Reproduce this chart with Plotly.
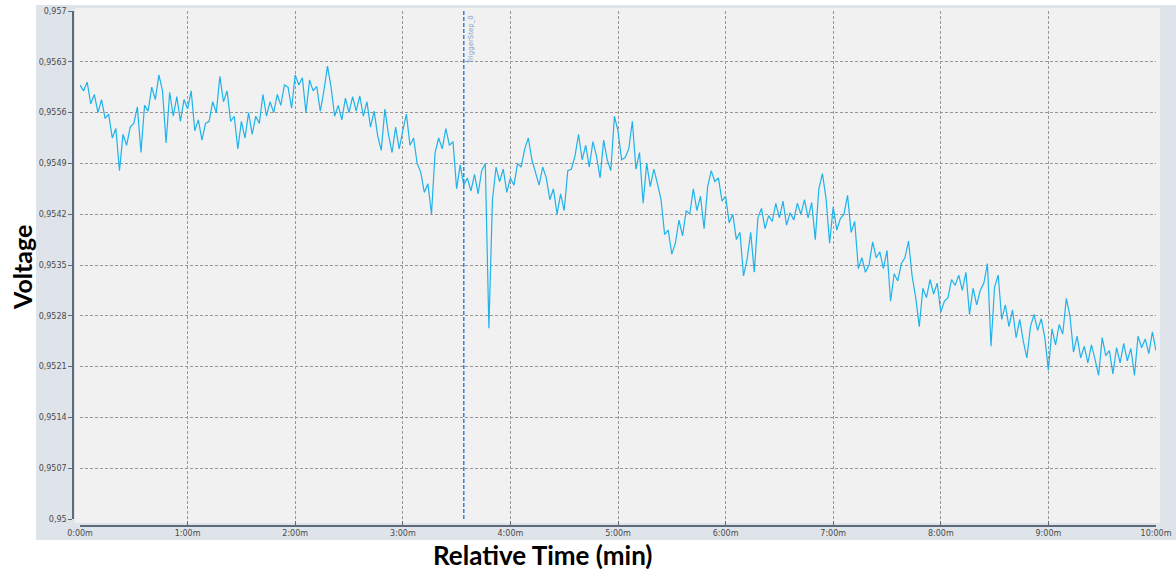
import plotly.graph_objects as go

# ---- data ----
sample_step_s = 2
voltage = [
    0.95598, 0.95590, 0.95602, 0.95572, 0.95585, 0.95560, 0.95578, 0.95552, 0.95558, 0.95525,
    0.95538, 0.95480, 0.95530, 0.95515, 0.95540, 0.95545, 0.95568, 0.95505, 0.95570, 0.95562,
    0.95595, 0.95578, 0.95612, 0.95590, 0.95518, 0.95588, 0.95555, 0.95582, 0.95548, 0.95578,
    0.95565, 0.95590, 0.95535, 0.95550, 0.95522, 0.95545, 0.95548, 0.95575, 0.95560, 0.95610,
    0.95575, 0.95590, 0.95548, 0.95555, 0.95510, 0.95548, 0.95525, 0.95560, 0.95530, 0.95555,
    0.95545, 0.95585, 0.95555, 0.95575, 0.95560, 0.95585, 0.95570, 0.95598, 0.95595, 0.95566,
    0.95612, 0.95598, 0.95608, 0.95560, 0.95605, 0.95590, 0.95596, 0.95562, 0.95590, 0.95624,
    0.95595, 0.95555, 0.95570, 0.95550, 0.95580, 0.95560, 0.95582, 0.95562, 0.95583, 0.95555,
    0.95575, 0.95540, 0.95562, 0.95528, 0.95508, 0.95565, 0.95530, 0.95505, 0.95540, 0.95510,
    0.95535, 0.95558, 0.95515, 0.95525, 0.95490, 0.95478, 0.95450, 0.95462, 0.95420, 0.95505,
    0.95525, 0.95510, 0.95538, 0.95515, 0.95520, 0.95455, 0.95488, 0.95460, 0.95470, 0.95452,
    0.95475, 0.95448, 0.95480, 0.95490, 0.95263, 0.95440, 0.95485, 0.95465, 0.95482, 0.95450,
    0.95470, 0.95460, 0.95490, 0.95485, 0.95510, 0.95525, 0.95495, 0.95478, 0.95460, 0.95485,
    0.95470, 0.95440, 0.95455, 0.95420, 0.95448, 0.95425, 0.95480, 0.95482, 0.95500, 0.95530,
    0.95495, 0.95515, 0.95485, 0.95520, 0.95500, 0.95470, 0.95522, 0.95495, 0.95480, 0.95555,
    0.95535, 0.95495, 0.95498, 0.95510, 0.95548, 0.95482, 0.95505, 0.95435, 0.95490, 0.95458,
    0.95482, 0.95462, 0.95440, 0.95392, 0.95398, 0.95365, 0.95380, 0.95412, 0.95390, 0.95425,
    0.95420, 0.95455, 0.95425, 0.95445, 0.95400, 0.95458, 0.95480, 0.95465, 0.95470, 0.95438,
    0.95445, 0.95408, 0.95420, 0.95385, 0.95395, 0.95335, 0.95358, 0.95395, 0.95340, 0.95415,
    0.95428, 0.95400, 0.95418, 0.95410, 0.95435, 0.95415, 0.95438, 0.95405, 0.95422, 0.95412,
    0.95435, 0.95420, 0.95440, 0.95415, 0.95436, 0.95385, 0.95455, 0.95476, 0.95442, 0.95380,
    0.95430, 0.95398, 0.95414, 0.95420, 0.95446, 0.95395, 0.95410, 0.95345, 0.95360, 0.95340,
    0.95350, 0.95382, 0.95360, 0.95368, 0.95345, 0.95370, 0.95300, 0.95338, 0.95328, 0.95352,
    0.95360, 0.95383, 0.95335, 0.95305, 0.95265, 0.95318, 0.95305, 0.95330, 0.95310, 0.95325,
    0.95285, 0.95300, 0.95305, 0.95330, 0.95322, 0.95336, 0.95315, 0.95340, 0.95282, 0.95318,
    0.95295, 0.95315, 0.95325, 0.95352, 0.95238, 0.95320, 0.95336, 0.95275, 0.95295, 0.95265,
    0.95288, 0.95250, 0.95275, 0.95245, 0.95222, 0.95265, 0.95282, 0.95260, 0.95276, 0.95250,
    0.95205, 0.95262, 0.95240, 0.95268, 0.95255, 0.95304, 0.95280, 0.95230, 0.95252, 0.95222,
    0.95238, 0.95215, 0.95240, 0.95220, 0.95198, 0.95250, 0.95225, 0.95232, 0.95200, 0.95236,
    0.95215, 0.95242, 0.95218, 0.95235, 0.95198, 0.95252, 0.95236, 0.95248, 0.95228, 0.95258,
    0.95232,
]
time_s = [i * sample_step_s for i in range(len(voltage))]

y_tick_vals = [0.95, 0.9507, 0.9514, 0.9521, 0.9528, 0.9535, 0.9542, 0.9549, 0.9556, 0.9563, 0.957]
y_tick_text = ["0,95", "0,9507", "0,9514", "0,9521", "0,9528", "0,9535", "0,9542",
               "0,9549", "0,9556", "0,9563", "0,957"]
x_tick_vals = [0, 60, 120, 180, 240, 300, 360, 420, 480, 540, 600]
x_tick_text = ["0:00m", "1:00m", "2:00m", "3:00m", "4:00m", "5:00m",
               "6:00m", "7:00m", "8:00m", "9:00m", "10:00m"]
trigger_time_s = 214
trigger_label = "TriggerStep_0"
x_title = "Relative Time (min)"
y_title = "Voltage"

# ---- layout geometry (pixels) ----
W, H = 1176, 573
ML, MR, MT, MB = 73, 20, 11, 47
PW = W - ML - MR
PH = H - MT - MB


def px(xp):
    return (xp - ML) / PW


def py(yp):
    return (H - MB - yp) / PH


grid_col = "#979797"
axis_col = "#5d6b78"
tick_font = dict(family="DejaVu Sans", size=8, color="#4a4a4a")

fig = go.Figure()
fig.add_trace(go.Scatter(
    x=time_s, y=voltage, mode="lines",
    line=dict(color="#1fb3ea", width=1.2),
    showlegend=False, hoverinfo="skip",
))

fig.update_layout(
    width=W, height=H,
    margin=dict(l=ML, r=MR, t=MT, b=MB, autoexpand=False),
    paper_bgcolor="white",
    plot_bgcolor="#eeeeee",
    showlegend=False,
    xaxis=dict(
        domain=[px(80), 1], anchor="free", position=0, automargin=False,
        range=[0, 600],
        tickmode="array", tickvals=x_tick_vals, ticktext=x_tick_text,
        ticks="inside", ticklen=4, tickcolor=axis_col, tickwidth=1,
        showline=True, linecolor=axis_col, linewidth=1.5,
        showgrid=True, gridcolor=grid_col, gridwidth=1, griddash="3px,2px",
        zeroline=False, tickfont=tick_font,
    ),
    yaxis=dict(
        domain=[py(519), 1], anchor="free", position=0, automargin=False,
        range=[0.95 - 1e-8, 0.957 + 1e-8],
        tickmode="array", tickvals=y_tick_vals, ticktext=y_tick_text,
        ticks="outside", ticklen=4, tickcolor=axis_col, tickwidth=1,
        showline=True, linecolor=axis_col, linewidth=1.5,
        showgrid=True, gridcolor=grid_col, gridwidth=1, griddash="3px,2px",
        zeroline=False, tickfont=tick_font,
    ),
    shapes=[
        dict(type="rect", xref="paper", yref="paper", layer="below",
             x0=px(36), x1=px(1176), y0=py(540), y1=py(5),
             fillcolor="#dfe4ea", line=dict(width=0)),
        dict(type="rect", xref="paper", yref="paper", layer="below",
             x0=px(75), x1=px(1160), y0=py(523), y1=py(8),
             fillcolor="#f1f1f1", line=dict(width=0)),
        dict(type="line", xref="x", yref="paper",
             x0=trigger_time_s, x1=trigger_time_s, y0=py(519), y1=1,
             line=dict(color="#3a7fd6", width=1.5, dash="4px,2px")),
    ],
    annotations=[
        dict(text=trigger_label, xref="x", yref="paper",
             x=trigger_time_s, y=py(13), xanchor="left", yanchor="top",
             xshift=2, textangle=-90, showarrow=False,
             font=dict(family="DejaVu Sans", size=7, color="#7c9fc6")),
        dict(text="<b>" + y_title + "</b>", xref="paper", yref="paper",
             x=px(22), y=py(268), xanchor="center", yanchor="middle",
             textangle=-90, showarrow=False,
             font=dict(family="Lato", size=25, color="black")),
        dict(text="<b>" + x_title + "</b>", xref="paper", yref="paper",
             x=px(543), y=py(555), xanchor="center", yanchor="middle",
             showarrow=False,
             font=dict(family="Lato", size=26, color="black")),
    ],
)

fig.write_html(
    "out.html",
    config={"displayModeBar": False},
    post_script="document.body.style.margin='0px';document.body.style.overflow='hidden';",
)
